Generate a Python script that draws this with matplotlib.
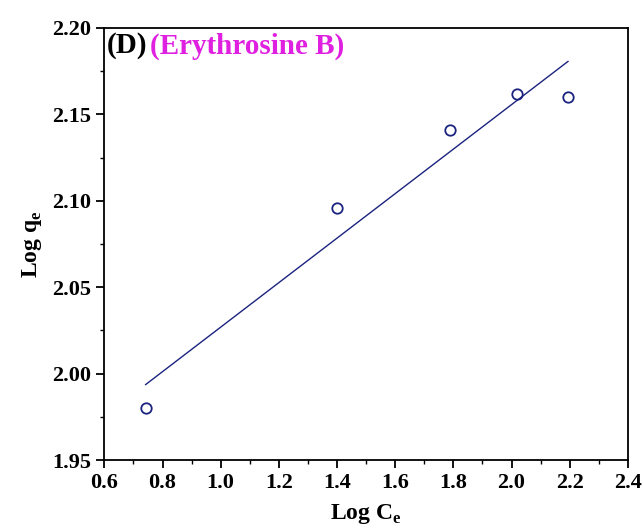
import numpy as np
import matplotlib.pyplot as plt
from matplotlib.ticker import MultipleLocator

# Freundlich isotherm, linear form: log qe vs log Ce
log_ce = np.array([0.742, 1.400, 1.787, 2.019, 2.194])
log_qe = np.array([1.980, 2.096, 2.141, 2.162, 2.160])

# Least-squares fit
slope, intercept = np.polyfit(log_ce, log_qe, 1)
x_fit = np.array([log_ce.min(), log_ce.max()])
y_fit = slope * x_fit + intercept

plt.rcParams['font.family'] = ['Liberation Serif', 'DejaVu Serif']
plt.rcParams['font.weight'] = 'bold'
plt.rcParams['mathtext.fontset'] = 'custom'
plt.rcParams['mathtext.rm'] = 'Liberation Serif:bold'
plt.rcParams['mathtext.bf'] = 'Liberation Serif:bold'

fig = plt.figure(figsize=(6.44, 5.27), dpi=100)
ax = fig.add_axes([0.162, 0.127, 0.813, 0.820])

ax.plot(log_ce, log_qe, 'o', mfc='none', mec='#1a237e', ms=7.5, mew=1.3)
ax.plot(x_fit, y_fit, '-', color='#1a237e', lw=1.0)

ax.set_xlim(0.6, 2.4)
ax.set_ylim(1.95, 2.20)
ax.xaxis.set_major_locator(MultipleLocator(0.2))
ax.xaxis.set_minor_locator(MultipleLocator(0.1))
ax.yaxis.set_major_locator(MultipleLocator(0.05))
ax.yaxis.set_minor_locator(MultipleLocator(0.025))
ax.xaxis.set_major_formatter(plt.FormatStrFormatter('%.1f'))
ax.yaxis.set_major_formatter(plt.FormatStrFormatter('%.2f'))

ax.tick_params(which='major', direction='out', length=6, width=1.3, labelsize=16)
ax.tick_params(which='minor', direction='out', length=3, width=1.0)
for sp in ax.spines.values():
    sp.set_linewidth(1.3)

ax.set_xlabel(r'Log C$_\mathbf{e}$', fontsize=17, fontweight='bold', labelpad=6)
ax.set_ylabel(r'Log q$_\mathbf{e}$', fontsize=17, fontweight='bold', labelpad=6)

ax.text(0.004, 0.99, '(D)', transform=ax.transAxes, fontsize=21,
        fontweight='bold', color='black', va='top', ha='left')
ax.text(0.088, 0.99, '(Erythrosine B)', transform=ax.transAxes, fontsize=21,
        fontweight='bold', color='#e020e0', va='top', ha='left')

fig.savefig('out.png', dpi=100)
